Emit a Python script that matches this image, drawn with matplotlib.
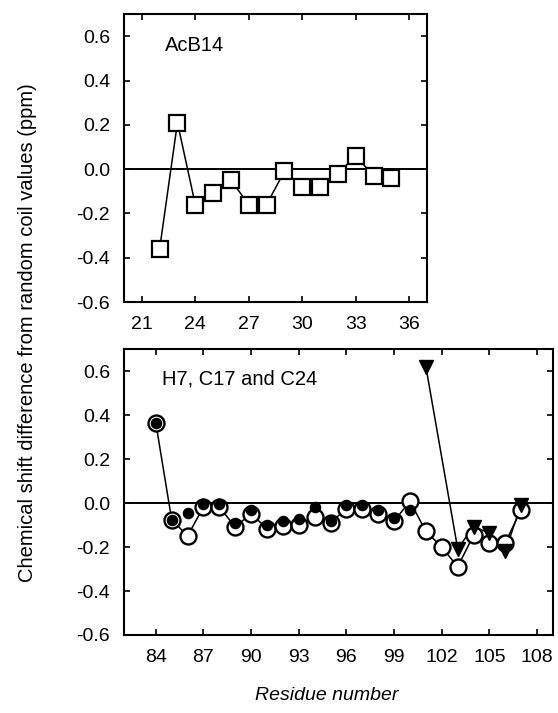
import matplotlib
matplotlib.use("Agg")
import matplotlib.pyplot as plt

plt.rcParams['font.family'] = ['Liberation Sans', 'DejaVu Sans']

# Верхняя панель: AcB14
top_residues = [22, 23, 24, 25, 26, 27, 28, 29, 30, 31, 32, 33, 34, 35]
top_shift = [-0.36, 0.21, -0.16, -0.11, -0.05, -0.16, -0.16, -0.01, -0.08, -0.08, -0.02, 0.06, -0.03, -0.04]
top_ticks = [21, 24, 27, 30, 33, 36]

# Нижняя панель: H7, C17 and C24
open_residues = list(range(84, 108))
open_shift = [0.365, -0.075, -0.15, -0.018, -0.018, -0.109, -0.048, -0.117, -0.106, -0.098, -0.064, -0.089,
              -0.026, -0.026, -0.051, -0.082, 0.008, -0.129, -0.2, -0.29, -0.147, -0.18, -0.18, -0.03]
filled_residues = list(range(84, 101))
filled_shift = [0.365, -0.075, -0.045, -0.004, -0.004, -0.092, -0.034, -0.098, -0.084, -0.072, -0.016, -0.083,
                -0.007, -0.007, -0.032, -0.066, -0.03]
tri_residues = [101, 103, 104, 105, 106, 107]
tri_shift = [0.62, -0.207, -0.109, -0.136, -0.218, -0.007]
bottom_ticks = [84, 87, 90, 93, 96, 99, 102, 105, 108]

y_ticks = [-0.6, -0.4, -0.2, 0.0, 0.2, 0.4, 0.6]

fig = plt.figure(figsize=(5.58, 7.13), dpi=100)
ax1 = fig.add_axes([0.2222, 0.5764, 0.543, 0.4039])
ax2 = fig.add_axes([0.2222, 0.1094, 0.7688, 0.4011])

def style_axes(ax, xticks, xlim):
    ax.set_xlim(*xlim)
    ax.set_ylim(-0.6, 0.7)
    ax.set_xticks(xticks)
    ax.set_yticks(y_ticks)
    ax.set_yticklabels([f"{v:.1f}" for v in y_ticks])
    ax.tick_params(direction="in", top=True, right=True, length=4, width=1.2,
                   labelsize=14, pad=10)
    for s in ax.spines.values():
        s.set_linewidth(1.5)
    ax.axhline(0, color="black", lw=1.4, zorder=1)

style_axes(ax1, top_ticks, (20, 37))
style_axes(ax2, bottom_ticks, (82, 109))

# AcB14
ax1.plot(top_residues, top_shift, color="black", lw=1.1, zorder=2)
ax1.plot(top_residues, top_shift, "s", ms=11, mfc="white", mec="black", mew=1.6, zorder=3)
ax1.text(0.135, 0.89, "AcB14", transform=ax1.transAxes, fontsize=14.5, va="center")

# H7, C17, C24
ax2.plot(open_residues, open_shift, color="black", lw=1.1, zorder=2)
ax2.plot(tri_residues, tri_shift, color="black", lw=1.1, zorder=2)
ax2.plot(open_residues, open_shift, "o", ms=11.5, mfc="white", mec="black", mew=1.7, zorder=3)
ax2.plot(filled_residues, filled_shift, "o", ms=7.3, mfc="black", mec="black", zorder=4)
ax2.plot(tri_residues, tri_shift, "v", ms=9.5, mfc="black", mec="black", zorder=5)
ax2.text(0.089, 0.895, "H7, C17 and C24", transform=ax2.transAxes, fontsize=14.5, va="center")

fig.text(0.05, 0.534, "Chemical shift difference from random coil values (ppm)",
         rotation=90, ha="center", va="center", fontsize=14.5)
fig.text(0.586, 0.025, "Residue number", style="italic", ha="center", va="center", fontsize=14)

plt.savefig("out.png", dpi=100)
